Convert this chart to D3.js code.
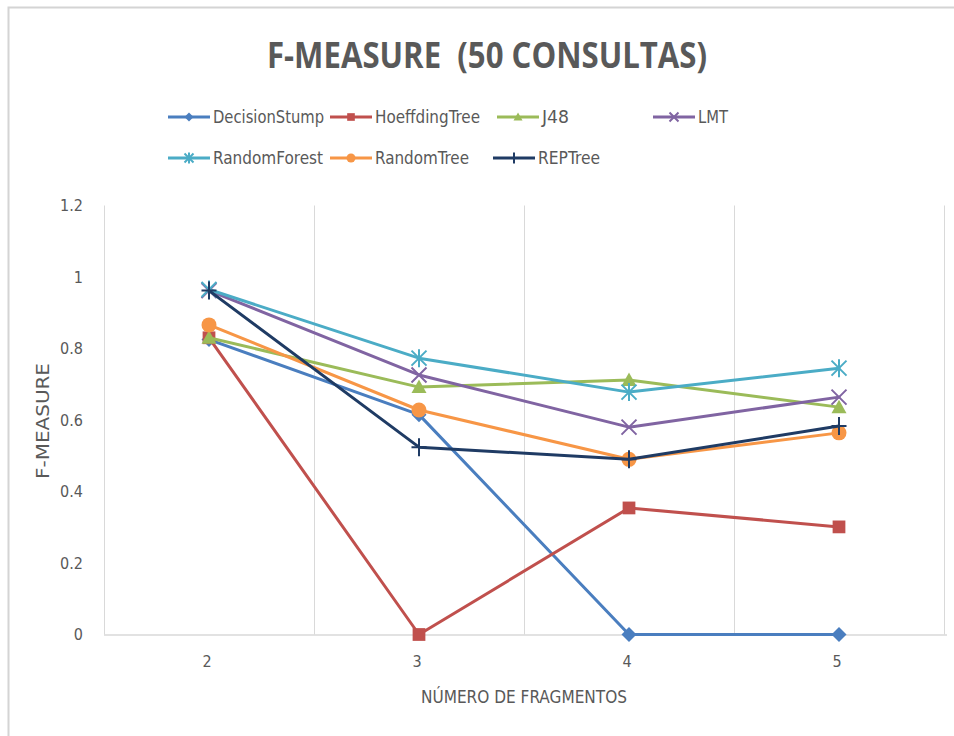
<!DOCTYPE html>
<html>
<head>
<meta charset="utf-8">
<script src="https://cdn.jsdelivr.net/npm/d3@7"></script>
<style>
  html, body { margin: 0; padding: 0; background: #fff; }
  svg { display: block; }
  text { font-family: "Liberation Sans Narrow", "DejaVu Sans Condensed", "Open Sans", sans-serif; fill: #595959; }
</style>
</head>
<body>
<svg id="chart" width="954" height="736"></svg>
<script>
// Number of fragments (x categories)
const categories = ["2", "3", "4", "5"];
const yTicks = [0, 0.2, 0.4, 0.6, 0.8, 1, 1.2];

// F-measure per classifier
const seriesNames = ["DecisionStump", "HoeffdingTree", "J48", "LMT", "RandomForest", "RandomTree", "REPTree"];
const decisionStump = [0.825, 0.615, 0, 0];
const hoeffdingTree = [0.83, 0, 0.354, 0.301];
const j48           = [0.83, 0.692, 0.712, 0.636];
const lmt           = [0.962, 0.726, 0.58, 0.664];
const randomForest  = [0.965, 0.773, 0.678, 0.745];
const randomTree    = [0.866, 0.628, 0.49, 0.564];
const repTree       = [0.962, 0.524, 0.49, 0.583];

const seriesValues = [decisionStump, hoeffdingTree, j48, lmt, randomForest, randomTree, repTree];
const colors  = ["#4a7ebf", "#c0504d", "#9bbb59", "#8064a2", "#4bacc6", "#f79646", "#1f3b64"];
const markers = ["diamond", "square", "triangle", "x", "star", "circle", "plus"];

const svg = d3.select("#chart");

// outer chart frame
svg.append("rect")
  .attr("x", 8.5).attr("y", 7.5).attr("width", 980).attr("height", 760)
  .attr("fill", "#fff").attr("stroke", "#d4d4d4").attr("stroke-width", 2);

const plot = { left: 104, right: 944, top: 205.5, bottom: 634.5 };

const x = d3.scaleBand().domain(categories).range([plot.left, plot.right]).padding(0);
const y = d3.scaleLinear().domain([0, 1.2]).range([plot.bottom, plot.top]);

// vertical gridlines at category boundaries
const bounds = categories.map(c => x(c)).concat([plot.right]);
svg.append("g").selectAll("line").data(bounds).join("line")
  .attr("x1", d => d + 0.5).attr("x2", d => d + 0.5)
  .attr("y1", plot.top).attr("y2", plot.bottom)
  .attr("stroke", "#d9d9d9").attr("stroke-width", 1);

// category axis line
svg.append("line")
  .attr("x1", plot.left).attr("x2", plot.right + 3)
  .attr("y1", plot.bottom + 0.5).attr("y2", plot.bottom + 0.5)
  .attr("stroke", "#d9d9d9").attr("stroke-width", 1.5);

// value axis labels
const yAxis = svg.append("g")
  .attr("transform", `translate(${plot.left - 18},0)`)
  .call(d3.axisLeft(y).tickValues(yTicks).tickSize(0).tickFormat(d => String(+d.toFixed(1))));
yAxis.select(".domain").remove();
yAxis.selectAll("text").attr("font-size", 16).attr("fill", "#595959")
  .style("font-family", '"Liberation Sans Narrow", "DejaVu Sans Condensed", sans-serif');

// category axis labels
const xAxis = svg.append("g")
  .attr("transform", `translate(-2,${plot.bottom + 18})`)
  .call(d3.axisBottom(x).tickSize(0));
xAxis.select(".domain").remove();
xAxis.selectAll("text").attr("font-size", 16).attr("fill", "#595959")
  .style("font-family", '"Liberation Sans Narrow", "DejaVu Sans Condensed", sans-serif');

// axis titles
svg.append("text")
  .attr("x", 524).attr("y", 703)
  .attr("text-anchor", "middle").attr("font-size", 17)
  .attr("textLength", 206).attr("lengthAdjust", "spacingAndGlyphs")
  .text("NÚMERO DE FRAGMENTOS");

svg.append("text")
  .attr("transform", "translate(49,421) rotate(-90)")
  .attr("text-anchor", "middle").attr("font-size", 17)
  .attr("textLength", 116).attr("lengthAdjust", "spacingAndGlyphs")
  .text("F-MEASURE");

// chart title
svg.append("text")
  .attr("x", 487).attr("y", 68)
  .attr("text-anchor", "middle").attr("font-size", 36).attr("font-weight", "bold")
  .attr("textLength", 440).attr("lengthAdjust", "spacingAndGlyphs")
  .style("font-family", '"Open Sans", "DejaVu Sans", sans-serif')
  .style("white-space", "pre")
  .text("F-MEASURE  (50 CONSULTAS)");

// marker drawing
function drawMarker(g, type, color, s) {
  const h = s / 2;
  switch (type) {
    case "diamond":
      g.append("path").attr("d", `M0,${-h}L${h},0L0,${h}L${-h},0Z`).attr("fill", color);
      break;
    case "square":
      g.append("rect").attr("x", -h * 0.85).attr("y", -h * 0.85)
        .attr("width", s * 0.85).attr("height", s * 0.85).attr("fill", color);
      break;
    case "triangle":
      g.append("path").attr("d", `M0,${-h}L${h},${h * 0.8}L${-h},${h * 0.8}Z`).attr("fill", color);
      break;
    case "circle":
      g.append("circle").attr("r", h).attr("fill", color);
      break;
    case "x":
      g.append("path").attr("d", `M${-h},${-h}L${h},${h}M${-h},${h}L${h},${-h}`)
        .attr("stroke", color).attr("stroke-width", 2).attr("fill", "none");
      break;
    case "star":
      g.append("path").attr("d", `M${-h},${-h}L${h},${h}M${-h},${h}L${h},${-h}M0,${-h * 1.2}L0,${h * 1.2}`)
        .attr("stroke", color).attr("stroke-width", 2).attr("fill", "none");
      break;
    case "plus":
      g.append("path").attr("d", `M0,${-h * 1.2}L0,${h * 1.2}M${-h},0L${h},0`)
        .attr("stroke", color).attr("stroke-width", 2).attr("fill", "none");
      break;
  }
}

const cx = c => x(c) + x.bandwidth() / 2;
const line = d3.line().x((d, i) => cx(categories[i])).y(d => y(d));

seriesValues.forEach((vals, si) => {
  const g = svg.append("g");
  g.append("path").datum(vals)
    .attr("d", line).attr("fill", "none")
    .attr("stroke", colors[si]).attr("stroke-width", 3)
    .attr("stroke-linejoin", "round").attr("stroke-linecap", "round");
  vals.forEach((v, i) => {
    const mg = g.append("g").attr("transform", `translate(${cx(categories[i])},${y(v)})`);
    drawMarker(mg, markers[si], colors[si], 15);
  });
});

// legend
const legendPos = [
  [168, 117], [330, 117], [497, 117], [653, 117],
  [168, 158], [330, 158], [493, 158]
];
const legendTextLen = [111, 105, 27, 30, 110, 94, 62];
seriesNames.forEach((name, i) => {
  const [lx, ly] = legendPos[i];
  const g = svg.append("g").attr("transform", `translate(${lx},${ly})`);
  g.append("line").attr("x1", 0).attr("x2", 42).attr("y1", 0).attr("y2", 0)
    .attr("stroke", colors[i]).attr("stroke-width", 3);
  const mg = g.append("g").attr("transform", "translate(21,0)");
  drawMarker(mg, markers[i], colors[i], 9);
  g.append("text").attr("x", 45).attr("y", 6)
    .attr("font-size", 17)
    .attr("textLength", legendTextLen[i]).attr("lengthAdjust", "spacingAndGlyphs")
    .text(name);
});
</script>
</body>
</html>
